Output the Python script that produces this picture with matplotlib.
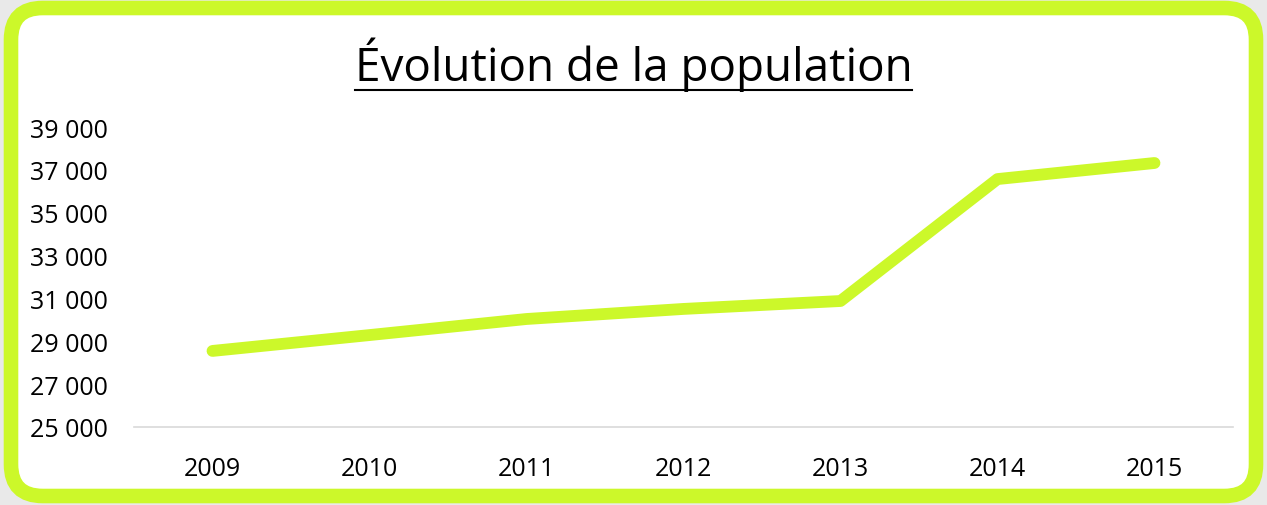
import matplotlib.pyplot as plt
from matplotlib.patches import FancyBboxPatch
from matplotlib.lines import Line2D

# population per year
years = ['2009', '2010', '2011', '2012', '2013', '2014', '2015']
population = [28550, 29290, 30040, 30510, 30880, 36570, 37320]
yticks = [25000, 27000, 29000, 31000, 33000, 35000, 37000, 39000]
title = 'Évolution de la population'

lime = '#CCF82A'
W, H = 1267, 506

plt.rcParams['font.family'] = ['Open Sans', 'DejaVu Sans']

fig = plt.figure(figsize=(W / 100, H / 100), dpi=100)
fig.patch.set_facecolor('#e9e9e9')

# rounded lime frame
frame = FancyBboxPatch((11 / W, 9 / H), (W - 22) / W, (H - 18) / H,
                       boxstyle='round,pad=0,rounding_size=0.025',
                       mutation_aspect=W / H,
                       transform=fig.transFigure, facecolor='white',
                       edgecolor=lime, linewidth=10.5, zorder=-1)
fig.patches.append(frame)

ax = fig.add_axes([134 / W, 1 - 428 / H, (1233 - 134) / W, 300 / H])
ax.set_facecolor('none')
x = list(range(len(years)))
ax.plot(x, population, color=lime, linewidth=8.5, solid_capstyle='round',
        solid_joinstyle='round')
ax.set_xlim(-0.5, len(years) - 0.5)
ax.set_ylim(25000, 39000)
ax.set_xticks(x)
ax.set_xticklabels(years)
ax.set_yticks(yticks)
ax.set_yticklabels([f'{v:,}'.replace(',', ' ') for v in yticks])
ax.tick_params(length=0, labelsize=18, colors='black')
ax.tick_params(axis='y', pad=19)
ax.tick_params(axis='x', pad=21)
for s in ['top', 'right', 'left']:
    ax.spines[s].set_visible(False)
ax.spines['bottom'].set_color('#d9d9d9')
ax.spines['bottom'].set_linewidth(1.2)

t = fig.text(0.5, 1 - 65 / H, title, ha='center', va='center', fontsize=33)
fig.canvas.draw()
bb = t.get_window_extent()
uy = 1 - 91 / H
fig.add_artist(Line2D([bb.x0 / W, bb.x1 / W], [uy, uy], color='black',
                      linewidth=1.5, transform=fig.transFigure))

fig.savefig('out.png', dpi=100, facecolor=fig.get_facecolor())
